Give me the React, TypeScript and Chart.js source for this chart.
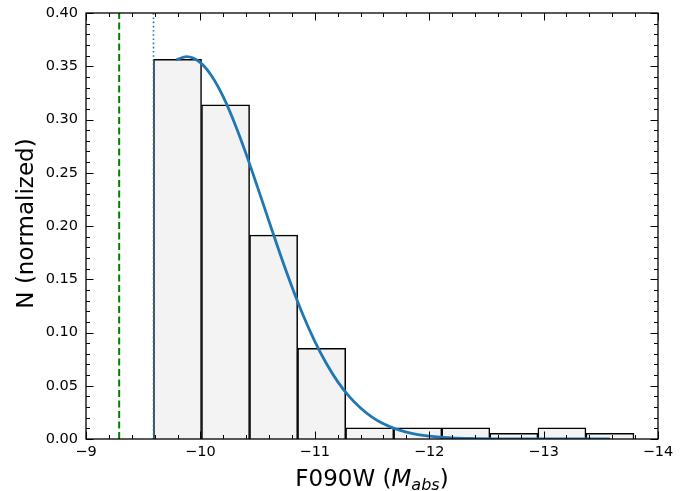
import React, { useEffect, useRef } from 'react';
import { Chart, registerables } from 'chart.js';

Chart.register(...registerables);

// Histogram bins (absolute magnitude, F090W) and normalized counts
const binCenters = [-9.8, -10.22, -10.64, -11.06, -11.48, -11.9, -12.32, -12.74, -13.16, -13.58];
const binValues = [0.3564, 0.3138, 0.1915, 0.0851, 0.0106, 0.0106, 0.0106, 0.0053, 0.0106, 0.0053];

// Fitted curve
const fitMag = [-9.79, -9.88, -10.0, -10.1, -10.2, -10.3, -10.4, -10.5, -10.6, -10.7, -10.8, -10.9, -11.0, -11.1, -11.2, -11.3, -11.4, -11.5, -11.6, -11.7, -11.8, -11.9, -12.0, -12.2, -12.4, -12.6, -13.0, -13.58];
const fitN = [0.356, 0.359, 0.3534, 0.3406, 0.3212, 0.2963, 0.2675, 0.2363, 0.2043, 0.1728, 0.143, 0.1157, 0.0917, 0.0711, 0.0539, 0.04, 0.0291, 0.0206, 0.0143, 0.0098, 0.0065, 0.0042, 0.0027, 0.001, 0.0004, 0.0001, 0.0, 0.0];

// Vertical reference lines
const greenLineMag = -9.29;
const blueLineMag = -9.59;

// Axis ranges / ticks
const xMin = -14;
const xMax = -9;
const xMajorStep = 1;
const xMinorStep = 0.2;
const yMin = 0;
const yMax = 0.4;
const yMajorStep = 0.05;
const yMinorStep = 0.01;

const FONT = '"DejaVu Sans", sans-serif';

const framePlugin = {
  id: 'framePlugin',
  afterDraw(chart: any) {
    const { ctx, chartArea } = chart;
    const xs = chart.scales.x;
    const ys = chart.scales.y;
    const { left, right, top, bottom } = chartArea;
    ctx.save();
    ctx.strokeStyle = '#000';
    ctx.lineWidth = 1;
    ctx.beginPath();
    const nx = Math.round((xMax - xMin) / xMinorStep);
    for (let i = 0; i <= nx; i++) {
      const v = xMin + i * xMinorStep;
      const major = Math.abs(v / xMajorStep - Math.round(v / xMajorStep)) < 1e-6;
      const len = major ? 7.5 : 4;
      const px = Math.round(xs.getPixelForValue(v)) + 0.5;
      ctx.moveTo(px, bottom);
      ctx.lineTo(px, bottom - len);
      ctx.moveTo(px, top);
      ctx.lineTo(px, top + len);
    }
    const ny = Math.round((yMax - yMin) / yMinorStep);
    for (let i = 0; i <= ny; i++) {
      const v = yMin + i * yMinorStep;
      const major = i % Math.round(yMajorStep / yMinorStep) === 0;
      const len = major ? 7.5 : 4;
      const py = Math.round(ys.getPixelForValue(v)) + 0.5;
      ctx.moveTo(left, py);
      ctx.lineTo(left + len, py);
      ctx.moveTo(right, py);
      ctx.lineTo(right - len, py);
    }
    ctx.stroke();
    ctx.lineWidth = 1.3;
    ctx.strokeRect(left, top, right - left, bottom - top);

    // X axis title: F090W (M_abs)
    ctx.fillStyle = '#000';
    ctx.textBaseline = 'alphabetic';
    ctx.textAlign = 'left';
    const size = 23;
    const subSize = 16;
    const parts = [
      { t: 'F090W (', f: `${size}px ${FONT}`, dy: 0 },
      { t: 'M', f: `italic ${size}px ${FONT}`, dy: 0 },
      { t: 'abs', f: `italic ${subSize}px ${FONT}`, dy: 4.5 },
      { t: ')', f: `${size}px ${FONT}`, dy: 0 },
    ];
    let total = 0;
    const widths = parts.map((p) => {
      ctx.font = p.f;
      const w = ctx.measureText(p.t).width;
      total += w;
      return w;
    });
    let x = (left + right) / 2 - total / 2;
    const baseY = 485.5;
    parts.forEach((p, i) => {
      ctx.font = p.f;
      ctx.fillText(p.t, x, baseY + p.dy);
      x += widths[i];
    });

    // Y axis title
    ctx.save();
    ctx.translate(33, (top + bottom) / 2 - 2.5);
    ctx.rotate(-Math.PI / 2);
    ctx.textAlign = 'center';
    ctx.font = `${size}px ${FONT}`;
    ctx.fillText('N (normalized)', 0, 0);
    ctx.restore();
    ctx.restore();
  },
};

export default function App() {
  const canvasRef = useRef<HTMLCanvasElement | null>(null);

  useEffect(() => {
    const canvas = canvasRef.current;
    if (!canvas) return;
    const chart = new Chart(canvas, {
      type: 'bar',
      data: {
        datasets: [
          {
            type: 'bar',
            data: binCenters.map((c, i) => ({ x: c, y: binValues[i] })),
            backgroundColor: '#f3f3f3',
            borderColor: '#000',
            borderWidth: 1.5,
            barPercentage: 1,
            categoryPercentage: 1,
            order: 3,
          } as any,
          {
            type: 'line',
            data: [
              { x: greenLineMag, y: yMin },
              { x: greenLineMag, y: yMax },
            ],
            borderColor: '#008000',
            borderWidth: 2,
            borderDash: [7, 3.5],
            pointRadius: 0,
            fill: false,
            order: 2,
          } as any,
          {
            type: 'line',
            data: [
              { x: blueLineMag, y: yMin },
              { x: blueLineMag, y: yMax },
            ],
            borderColor: '#1f77b4',
            borderWidth: 1.6,
            borderDash: [1.6, 2.6],
            pointRadius: 0,
            fill: false,
            order: 2,
          } as any,
          {
            type: 'line',
            data: fitMag.map((m, i) => ({ x: m, y: fitN[i] })),
            borderColor: '#1f77b4',
            borderWidth: 2.8,
            pointRadius: 0,
            fill: false,
            cubicInterpolationMode: 'monotone',
            order: 1,
          } as any,
        ],
      },
      options: {
        animation: false,
        responsive: true,
        maintainAspectRatio: false,
        events: [],
        layout: { padding: { left: 0, top: 13, right: 30, bottom: 0 } },
        plugins: { legend: { display: false }, tooltip: { enabled: false }, title: { display: false } },
        scales: {
          x: {
            type: 'linear',
            min: xMin,
            max: xMax,
            reverse: true,
            offset: false,
            grid: { display: false, drawTicks: false },
            border: { display: false },
            ticks: {
              stepSize: xMajorStep,
              padding: 5,
              color: '#000',
              font: { family: FONT, size: 14.5 },
              maxRotation: 0,
              callback: (v: any) => '\u2212' + Math.abs(Number(v)).toString(),
            },
            afterFit: (s: any) => {
              s.height = 52;
              s.paddingLeft = 0;
              s.paddingRight = 0;
            },
          },
          y: {
            type: 'linear',
            min: yMin,
            max: yMax,
            grid: { display: false, drawTicks: false },
            border: { display: false },
            ticks: {
              stepSize: yMajorStep,
              padding: 8,
              color: '#000',
              font: { family: FONT, size: 14.5 },
              callback: (v: any) => Number(v).toFixed(2),
            },
            afterFit: (s: any) => {
              s.width = 86;
              s.paddingTop = 0;
              s.paddingBottom = 0;
            },
          },
        },
      } as any,
      plugins: [framePlugin],
    });
    return () => chart.destroy();
  }, []);

  return (
    <div style={{ position: 'fixed', left: 0, top: 0, width: 688, height: 491, background: '#fff' }}>
      <canvas ref={canvasRef} />
    </div>
  );
}
